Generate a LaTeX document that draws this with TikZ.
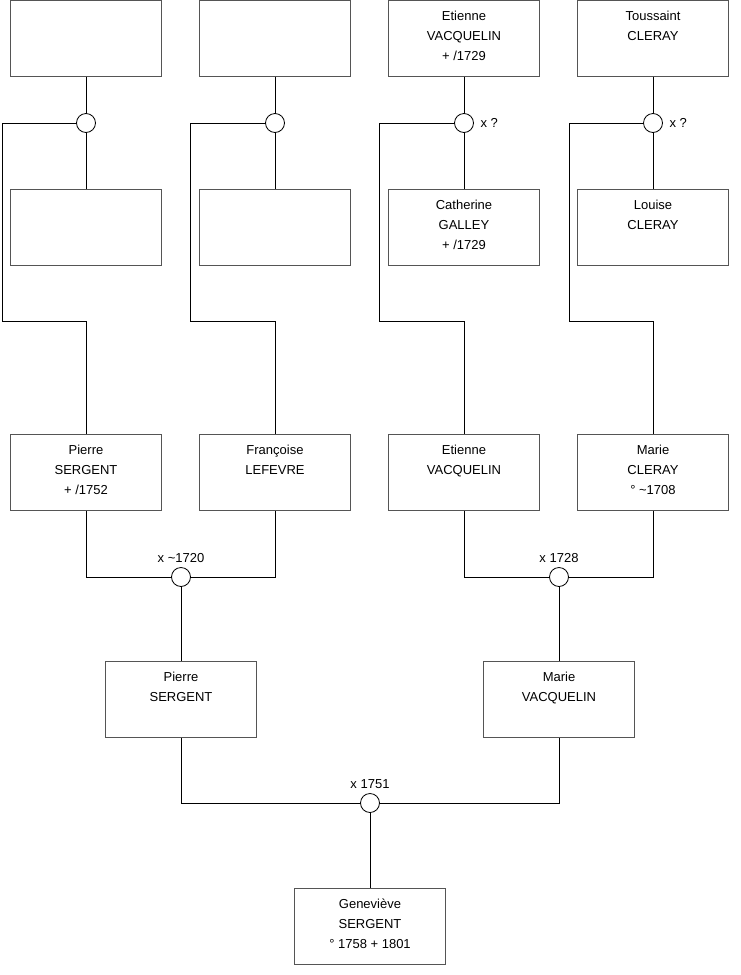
\documentclass[tikz,border=0pt]{standalone}
\usepackage{fontspec}
\setmainfont{Liberation Sans}
\begin{document}
\begin{tikzpicture}[x=1pt,y=-1pt,
  every node/.style={font=\fontsize{13}{20}\selectfont},
  person/.style={draw={rgb,255:red,85;green,85;blue,85}, line width=1pt, minimum width=151pt, minimum height=76pt, inner sep=0pt, fill=white},
  ptext/.style={anchor=north, inner sep=0pt, align=center, yshift=-10.8pt},
  union/.style={circle, draw=black, line width=0.8pt, minimum size=19pt, inner sep=0pt, fill=white},
  link/.style={draw=black, line width=0.9pt},
  rlab/.style={inner sep=0pt, xshift=6.5pt},
  alab/.style={inner sep=0pt, yshift=4pt},
]
\useasboundingbox (0,0) rectangle (740,975);
\newcommand{\st}{\rule{0pt}{9.5pt}}
% top row
\node[person] (t1) at (86,38) {};
\node[person] (t2) at (275,38) {};
\node[person, label={[ptext]north:\st Etienne\\VACQUELIN\\+ /1729}] (t3) at (464,38) {};
\node[person, label={[ptext]north:\st Toussaint\\CLERAY}] (t4) at (653,38) {};
% second row
\node[person] (s1) at (86,227) {};
\node[person] (s2) at (275,227) {};
\node[person, label={[ptext]north:\st Catherine\\GALLEY\\+ /1729}] (s3) at (464,227) {};
\node[person, label={[ptext]north:\st Louise\\CLERAY}] (s4) at (653,227) {};
% unions top
\node[union] (c1) at (86,123) {};
\node[union] (c2) at (275,123) {};
\node[union, label={[rlab]right:x ?}] (c3) at (464,123) {};
\node[union, label={[rlab]right:x ?}] (c4) at (653,123) {};
% third row
\node[person, label={[ptext]north:\st Pierre\\SERGENT\\+ /1752}] (p1) at (86,472.5) {};
\node[person, label={[ptext]north:\st Françoise\\LEFEVRE}] (p2) at (275,472.5) {};
\node[person, label={[ptext]north:\st Etienne\\VACQUELIN}] (p3) at (464,472.5) {};
\node[person, label={[ptext]north:\st Marie\\CLERAY\\° \textasciitilde1708}] (p4) at (653,472.5) {};
% unions middle
\node[union, label={[alab]above:x \textasciitilde1720}] (m1) at (181,577) {};
\node[union, label={[alab]above:x 1728}] (m2) at (559,577) {};
% fourth row
\node[person, label={[ptext]north:\st Pierre\\SERGENT}] (q1) at (181,699.5) {};
\node[person, label={[ptext]north:\st Marie\\VACQUELIN}] (q2) at (559,699.5) {};
% bottom union
\node[union, label={[alab]above:x 1751}] (b1) at (370,803) {};
\node[person, label={[ptext]north:\st Geneviève\\SERGENT\\° 1758 + 1801}] (g) at (370,926) {};
% connectors top
\foreach \i in {1,2,3,4} {
  \draw[link] (t\i.south) -- (c\i.north);
  \draw[link] (c\i.south) -- (s\i.north);
}
\draw[link] (c1.west) -| (2,321) -| (p1.north);
\draw[link] (c2.west) -| (190,321) -| (p2.north);
\draw[link] (c3.west) -| (379,321) -| (p3.north);
\draw[link] (c4.west) -| (569,321) -| (p4.north);
% connectors middle
\draw[link] (p1.south) |- (m1.west);
\draw[link] (p2.south) |- (m1.east);
\draw[link] (p3.south) |- (m2.west);
\draw[link] (p4.south) |- (m2.east);
\draw[link] (m1.south) -- (q1.north);
\draw[link] (m2.south) -- (q2.north);
% connectors bottom
\draw[link] (q1.south) |- (b1.west);
\draw[link] (q2.south) |- (b1.east);
\draw[link] (b1.south) -- (g.north);
\end{tikzpicture}
\end{document}
